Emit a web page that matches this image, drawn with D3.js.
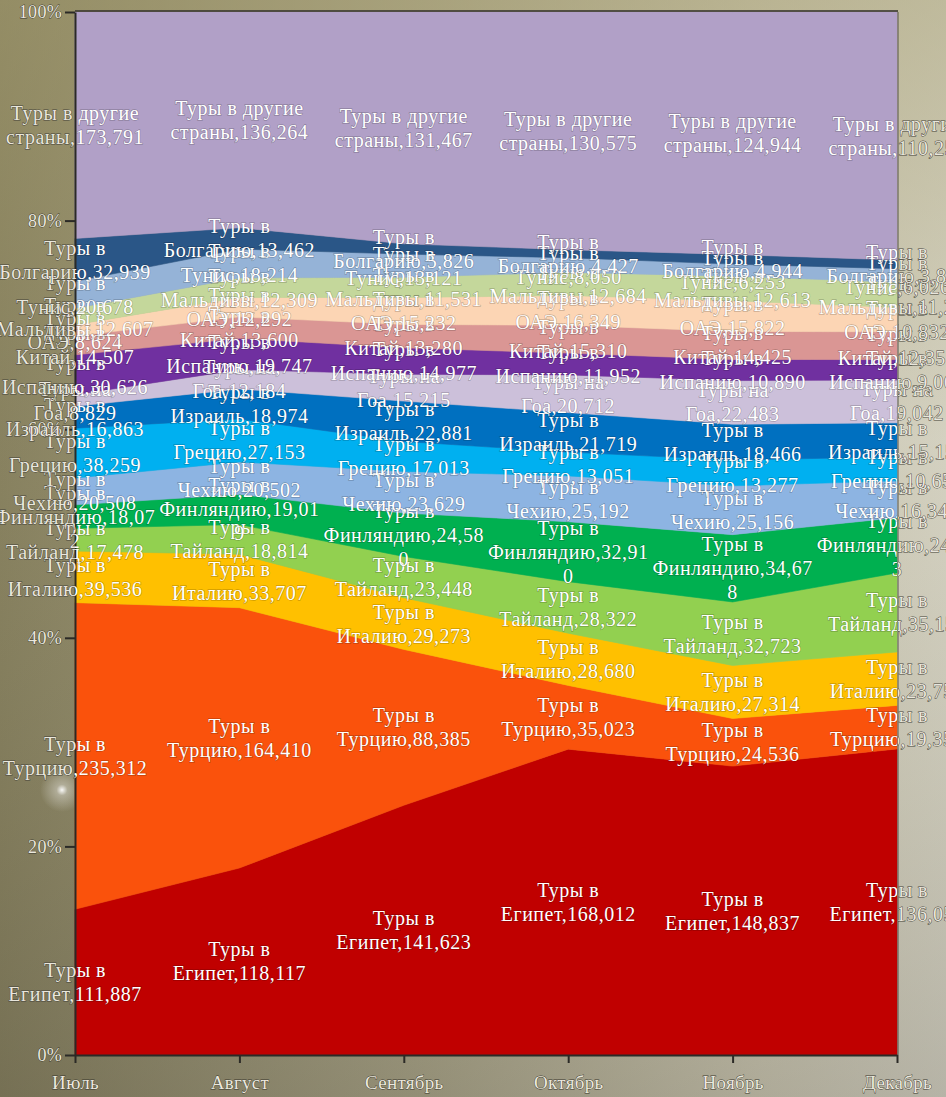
<!DOCTYPE html>
<html><head><meta charset="utf-8">
<script src="https://cdn.jsdelivr.net/npm/d3@7"></script>
<style>
html,body{margin:0;padding:0;background:#a8a48c;overflow:hidden;}
svg{display:block;}
</style></head><body>
<svg id="chart" width="946" height="1097"></svg>
<script>
// ---- data ----
const months = ["Июль","Август","Сентябрь","Октябрь","Ноябрь","Декабрь"];
const egypt    = [111887,118117,141623,168012,148837,136050];
const turkey   = [235312,164410, 88385, 35023, 24536, 19350];
const italy    = [ 39536, 33707, 29273, 28680, 27314, 23750];
const thailand = [ 17478, 18814, 23448, 28322, 32723, 35150];
const finland  = [ 18072, 19019, 24580, 32910, 34678, 24563];
const czech    = [ 20508, 20502, 23629, 25192, 25156, 16345];
const greece   = [ 38259, 27153, 17013, 13051, 13277, 10650];
const israel   = [ 16863, 18974, 22881, 21719, 18466, 15150];
const goa      = [  8829, 12184, 15215, 20712, 22483, 19042];
const spain    = [ 30626, 19747, 14977, 11952, 10890,  9060];
const china    = [ 14507, 13600, 13280, 15310, 14425, 12355];
const uae      = [  8624, 12292, 15232, 16349, 15822, 10832];
const maldives = [ 12607, 12309, 11531, 12684, 12613, 11200];
const tunisia  = [ 20678, 18214, 13121,  8050,  6253,  6026];
const bulgaria = [ 32939, 13462,  5826,  4427,  4944,  3850];
const others   = [173791,136264,131467,130575,124944,110250];

const seriesKeys    = ["egypt","turkey","italy","thailand","finland","czech","greece","israel","goa","spain","china","uae","maldives","tunisia","bulgaria","others"];
const seriesValues  = [egypt,turkey,italy,thailand,finland,czech,greece,israel,goa,spain,china,uae,maldives,tunisia,bulgaria,others];
const seriesPrefix  = ["Туры в","Туры в","Туры в","Туры в","Туры в","Туры в","Туры в","Туры в","Туры на","Туры в","Туры в","Туры в","Туры в","Туры в","Туры в","Туры в другие"];
const seriesName    = ["Египет","Турцию","Италию","Тайланд","Финляндию","Чехию","Грецию","Израиль","Гоа","Испанию","Китай","ОАЭ","Мальдивы","Тунис","Болгарию","страны"];
const seriesColors  = ["#C00000","#FA520C","#FFC000","#92D050","#00B050","#8DB4E2","#00B0F0","#0070C0","#CCC0DA","#7030A0","#DA9694","#FCD5B4","#C4D79B","#95B3D7","#2A5687","#B1A0C7"];
const yTicks = [0,0.2,0.4,0.6,0.8,1];

// ---- layout ----
const W = 946, H = 1097;
const X0 = 75, X1 = 897, Y0 = 1055, Y1 = 12;
const svg = d3.select("#chart");
const defs = svg.append("defs");

// background
const bg = defs.append("linearGradient").attr("id","bg").attr("x1",0).attr("x2",1).attr("y1",0).attr("y2",0);
bg.append("stop").attr("offset","0%").attr("stop-color","#847e5e");
bg.append("stop").attr("offset","45%").attr("stop-color","#aca78c");
bg.append("stop").attr("offset","80%").attr("stop-color","#cfcbb8");
bg.append("stop").attr("offset","100%").attr("stop-color","#dad8cc");
const bg2 = defs.append("linearGradient").attr("id","bg2").attr("x1",0).attr("x2",0).attr("y1",0).attr("y2",1);
bg2.append("stop").attr("offset","0%").attr("stop-color","#a49c6c").attr("stop-opacity",0.5);
bg2.append("stop").attr("offset","40%").attr("stop-color","#a49c6c").attr("stop-opacity",0.12);
bg2.append("stop").attr("offset","100%").attr("stop-color","#4a4636").attr("stop-opacity",0.25);
const glow = defs.append("radialGradient").attr("id","glow");
glow.append("stop").attr("offset","0%").attr("stop-color","#ffffff").attr("stop-opacity",0.95);
glow.append("stop").attr("offset","25%").attr("stop-color","#ffffff").attr("stop-opacity",0.35);
glow.append("stop").attr("offset","100%").attr("stop-color","#ffffff").attr("stop-opacity",0);
svg.append("rect").attr("width",W).attr("height",H).attr("fill","url(#bg)");
svg.append("rect").attr("width",W).attr("height",H).attr("fill","url(#bg2)");
svg.append("circle").attr("cx",62).attr("cy",790).attr("r",22).attr("fill","url(#glow)");

// scales
const x = d3.scalePoint().domain(months).range([X0, X1]);
const y = d3.scaleLinear().domain([0,1]).range([Y0, Y1]);

// table
const table = months.map((m,i) => {
  const row = {month: m};
  seriesKeys.forEach((k,j) => row[k] = seriesValues[j][i]);
  return row;
});
const stacked = d3.stack().keys(seriesKeys).offset(d3.stackOffsetExpand)(table);

const area = d3.area()
  .x(d => x(d.data.month))
  .y0(d => y(d[0]))
  .y1(d => y(d[1]));

const plot = svg.append("g");
plot.selectAll("path.band").data(stacked).join("path")
  .attr("class","band")
  .attr("d", area)
  .attr("fill", (d,i) => seriesColors[i])
  .attr("stroke", (d,i) => seriesColors[i])
  .attr("stroke-width", 0.6);

// plot edge shadow
svg.append("line").attr("x1",X0).attr("x2",X1+1).attr("y1",Y1-1).attr("y2",Y1-1)
  .attr("stroke","#3a3830").attr("stroke-width",2).attr("opacity",0.8);
svg.append("line").attr("x1",X1+1).attr("x2",X1+1).attr("y1",Y1).attr("y2",Y0)
  .attr("stroke","#4a4840").attr("stroke-width",1.5).attr("opacity",0.6);

// axes
const axisStyle = (sel, fs) => {
  sel.selectAll("path.domain").attr("stroke","#2b2a26").attr("stroke-width",2);
  sel.selectAll(".tick line").attr("stroke","#2b2a26").attr("stroke-width",2);
  sel.selectAll(".tick text")
    .attr("fill","#ebe8dd").attr("stroke","#3b392e").attr("stroke-width",0.8)
    .attr("paint-order","stroke")
    .style("font-family","'Liberation Serif', serif").style("font-size",fs+"px")
    .style("letter-spacing","0.3px");
};
const yAxis = svg.append("g").attr("transform",`translate(${X0},0)`)
  .call(d3.axisLeft(y).tickValues(yTicks).tickFormat(d3.format(".0%")).tickSize(10).tickPadding(3).tickSizeOuter(0));
axisStyle(yAxis, 18);
const xAxis = svg.append("g").attr("transform",`translate(0,${Y0})`)
  .call(d3.axisBottom(x).tickSize(8).tickPadding(13).tickSizeOuter(0));
axisStyle(xAxis, 19);

// ---- labels ----
const FONT = "'Liberation Serif', serif";
const FS = 20, LH = 24, LS = "0.5px";
const meas = svg.append("text").style("font-family",FONT).style("font-size",FS+"px")
  .style("letter-spacing",LS).attr("opacity",0);
const tw = s => { meas.text(s); return meas.node().getComputedTextLength(); };
const LIMIT = (tw("Финляндию,18,07") + tw("Финляндию,18,072")) / 2;
function wrapChars(s) {
  const lines = []; let cur = "";
  for (const ch of s) {
    if (cur && tw(cur + ch) > LIMIT) { lines.push(cur); cur = ch; }
    else cur += ch;
  }
  if (cur) lines.push(cur);
  return lines;
}
const fmt = d3.format(",");
const labels = [];
stacked.forEach((layer, j) => {
  layer.forEach((d, i) => {
    const lines = [seriesPrefix[j], ...wrapChars(seriesName[j] + "," + fmt(seriesValues[j][i]))];
    labels.push({cx: x(months[i]), cy: y((d[0]+d[1])/2), lines});
  });
});
meas.remove();

defs.append("clipPath").attr("id","inside").append("rect")
  .attr("x",X0).attr("y",0).attr("width",X1-X0).attr("height",H);
const outClip = defs.append("clipPath").attr("id","outside");
outClip.append("rect").attr("x",0).attr("y",0).attr("width",X0).attr("height",H);
outClip.append("rect").attr("x",X1+1).attr("y",0).attr("width",W).attr("height",H);

function drawLabels(g, fill, stroke, sw) {
  labels.forEach(l => {
    const t = g.append("text")
      .attr("x", l.cx).attr("text-anchor","middle")
      .style("font-family",FONT).style("font-size",FS+"px").style("letter-spacing",LS)
      .attr("fill",fill).attr("stroke",stroke).attr("stroke-width",sw)
      .attr("paint-order","stroke").attr("dominant-baseline","central");
    const n = l.lines.length;
    l.lines.forEach((ln,k) => {
      t.append("tspan").attr("x", l.cx).attr("y", l.cy - (n-1)*LH/2 + k*LH).text(ln);
    });
  });
}
drawLabels(svg.append("g").attr("clip-path","url(#inside)"), "#ffffff", "rgba(0,0,0,0.22)", 1.4);
drawLabels(svg.append("g").attr("clip-path","url(#outside)"), "#e9e6dc", "#46443a", 0.9);
</script>
</body></html>
